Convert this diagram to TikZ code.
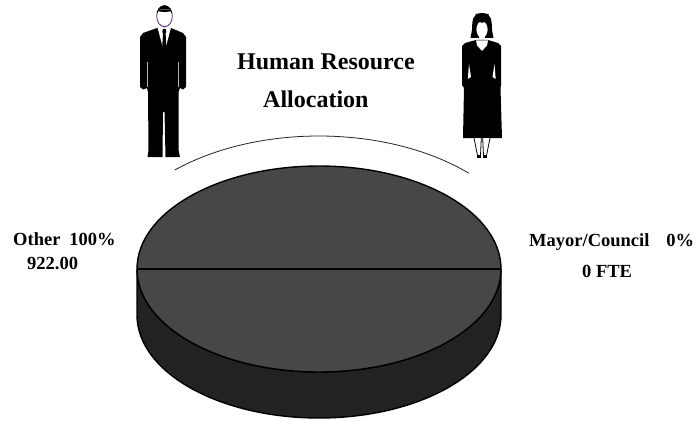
\documentclass[tikz,border=0pt]{standalone}
\usepackage{fontspec}
\setmainfont{Liberation Serif}
\definecolor{topgray}{RGB}{71,71,71}
\definecolor{sidegray}{RGB}{34,34,34}
\definecolor{facepurple}{RGB}{75,40,120}
\begin{document}
\begin{tikzpicture}[x=1pt,y=-1pt,
  lbl/.style={inner sep=0pt, anchor=base west, font=\fontsize{18.5}{22}\selectfont\bfseries},
  ttl/.style={inner sep=0pt, anchor=base west, font=\fontsize{24}{28}\selectfont\bfseries},
  pieline/.style={line width=1.4pt, draw=black, line join=round}]
\useasboundingbox (0,0) rectangle (700,420);
\fill[white] (0,0) rectangle (700,420);

% ---- pie: side wall
\filldraw[fill=sidegray, pieline] (137,269) -- (137,315)
  arc[start angle=180, end angle=0, x radius=182, y radius=103] -- (501,269)
  arc[start angle=0, end angle=180, x radius=182, y radius=103] -- cycle;
% ---- pie: top
\filldraw[fill=topgray, pieline] (319,269) ellipse[x radius=182, y radius=103];
\coordinate (pc) at (319,269);
\coordinate (pl) at (137,269);
\coordinate (pr) at (501,269);
\draw[line width=2pt] (pl) -- (pc);
\draw[line width=1.1pt] (pc) -- (pr);

% ---- arc above the pie
\draw[line width=0.8pt, draw=black!85] (319,269) ++(-132:216 and 133)
  arc[start angle=-132, end angle=-46, x radius=216, y radius=133];

% ---- texts
\node[ttl] (t1) at (237,69) {Human Resource};
\node[ttl] (t2) at (263,107) {Allocation};
\node[lbl] (oth) at (13,245) {Other\hspace{9pt}100\%};
\node[lbl] (othv) at (27,269) {922.00};
\node[lbl] (may) at (529,246) {Mayor/Council\hspace{17pt}0\%};
\node[lbl] (mayv) at (582,277) {0 FTE};

% ---- man
\fill[black] (157,28) -- (143,33) -- (140,37) -- (140,87) -- (143,89.5) -- (147,88)
  -- (148,92) -- (148.5,150) -- (147.5,157) -- (162.5,157) -- (163,112) -- (164.5,112)
  -- (165.5,157) -- (180,157) -- (178.5,150) -- (178.5,92) -- (180,88) -- (183,89.5)
  -- (186,87) -- (186,37) -- (183,33) -- (171,28) -- cycle;
\draw[white!70!black, line width=0.5pt] (147.6,62) -- (147.6,87);
\draw[white!70!black, line width=0.5pt] (178.4,62) -- (178.4,87);
\fill[white] (157.5,27.5) -- (164.3,53) -- (171,27.5) -- cycle;
\fill[black] (162.8,29) -- (165.8,29) -- (166.3,32) -- (165.6,33) -- (166.8,54)
  -- (164.3,58) -- (161.8,54) -- (163,33) -- (162.3,32) -- cycle;
\filldraw[fill=white, draw=facepurple, line width=0.8pt] (164.5,16.2) ellipse[x radius=7.8, y radius=10.5];
\begin{scope}
  \clip (164.5,16.2) ellipse[x radius=7.8, y radius=10.5];
  \fill[black] (155,4) rectangle (175,9.5);
  \fill[black] (155,9.4) .. controls (160,13) and (169,13) .. (175,9.4) -- cycle;
\end{scope}
\draw[black, line width=0.9pt] (164.5,16.2) ++(200:7.8 and 10.5)
  arc[start angle=200, end angle=340, x radius=7.8, y radius=10.5];

% ---- woman
\fill[black] (470.5,38) -- (472,30) -- (472.3,23) .. controls (472.3,9.5) and (491.7,9.5) .. (491.7,23)
  -- (492,30) -- (493.5,38) -- cycle;
\fill[white] (482,29.5) ellipse[x radius=5.6, y radius=8.3];
\fill[black] (475.5,19) .. controls (478,24) and (486,24) .. (488.5,19) -- (488.5,14) -- (475.5,14) -- cycle;
\fill[white] (479.2,34) rectangle (484.8,42);
\fill[black] (476,40) -- (465,43) -- (462,46) -- (462,85) -- (464,88) -- (463,138)
  -- (502,138) -- (500.5,88) -- (501,85) -- (501,46) -- (498,43) -- (488,40) -- cycle;
\fill[white] (476,40.5) -- (477,45.5) -- (482,51) -- (487,45.5) -- (488,40.5) -- cycle;
\fill[white] (469,64) -- (467.8,79) -- (471,77) -- cycle;
\fill[white] (494.5,64) -- (495.7,79) -- (492.5,77) -- cycle;
\filldraw[fill=white, draw=black, line width=0.8pt] (474,138) -- (477.5,155.5) -- (480.5,155.5) -- (481.3,138);
\filldraw[fill=white, draw=black, line width=0.8pt] (482.7,138) -- (483.5,155.5) -- (486.5,155.5) -- (490,138);
\fill[black] (477,155) rectangle (481,157.5);
\fill[black] (483,155) rectangle (487,157.5);
\end{tikzpicture}
\end{document}
